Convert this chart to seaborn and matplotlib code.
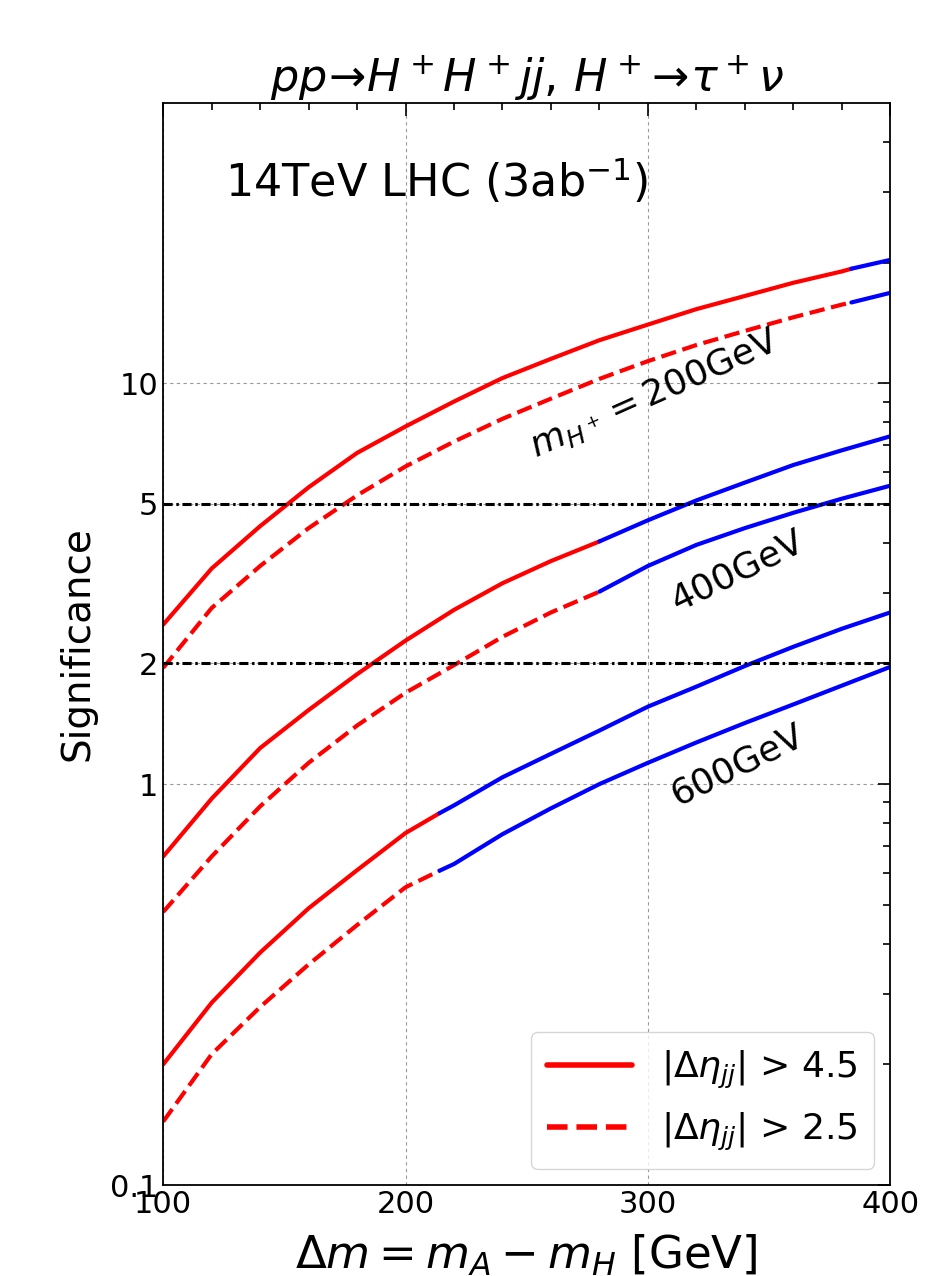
import numpy as np
import pandas as pd
import matplotlib
matplotlib.use("Agg")
import matplotlib.pyplot as plt
import seaborn as sns
from matplotlib.ticker import FixedLocator, FixedFormatter, NullFormatter
from matplotlib.lines import Line2D

# ---------------- data ----------------
dm_200 = [100, 120, 140, 160, 180, 200, 220, 240, 260, 280, 300, 320, 340, 360, 380, 384, 400]
sig_200_eta45 = [2.5, 3.45, 4.4, 5.5, 6.7, 7.8, 9.0, 10.3, 11.5, 12.8, 14.0, 15.3, 16.5, 17.8, 19.0, 19.3, 20.3]
sig_200_eta25 = [1.95, 2.75, 3.5, 4.35, 5.25, 6.2, 7.15, 8.15, 9.15, 10.25, 11.35, 12.45, 13.5, 14.6, 15.7, 15.9, 16.8]
split_200 = 384

dm_400 = [100, 120, 140, 160, 180, 200, 220, 240, 260, 280, 300, 320, 340, 360, 380, 400]
sig_400_eta45 = [0.66, 0.92, 1.23, 1.53, 1.88, 2.28, 2.72, 3.17, 3.6, 4.03, 4.55, 5.1, 5.65, 6.25, 6.8, 7.37]
sig_400_eta25 = [0.48, 0.66, 0.88, 1.13, 1.4, 1.69, 1.98, 2.33, 2.68, 3.02, 3.5, 3.95, 4.35, 4.75, 5.15, 5.55]
split_400 = 280

dm_600 = [100, 120, 140, 160, 180, 200, 214, 220, 240, 260, 280, 300, 320, 340, 360, 380, 400]
sig_600_eta45 = [0.2, 0.285, 0.38, 0.49, 0.61, 0.755, 0.846, 0.885, 1.04, 1.19, 1.36, 1.56, 1.75, 1.97, 2.2, 2.44, 2.68]
sig_600_eta25 = [0.144, 0.212, 0.278, 0.355, 0.445, 0.553, 0.608, 0.632, 0.75, 0.87, 1.0, 1.13, 1.27, 1.42, 1.58, 1.76, 1.96]
split_600 = 214

ref_levels = [2, 5]
ytick_vals = [0.1, 1, 2, 5, 10]
ytick_labels = ["0.1", "1", "2", "5", "10"]
xtick_vals = [100, 200, 300, 400]
legend_labels = [r"$|\Delta\eta_{jj}|$ > 4.5", r"$|\Delta\eta_{jj}|$ > 2.5"]

curves = [
    (dm_200, sig_200_eta45, split_200, "-"),
    (dm_200, sig_200_eta25, split_200, "--"),
    (dm_400, sig_400_eta45, split_400, "-"),
    (dm_400, sig_400_eta25, split_400, "--"),
    (dm_600, sig_600_eta45, split_600, "-"),
    (dm_600, sig_600_eta25, split_600, "--"),
]

# ---------------- style ----------------
sns.set_style("white")
plt.rcParams["font.family"] = ["DejaVu Sans"]
plt.rcParams["mathtext.fontset"] = "dejavusans"
plt.rcParams["text.color"] = "black"
plt.rcParams["axes.labelcolor"] = "black"
plt.rcParams["xtick.color"] = "black"
plt.rcParams["ytick.color"] = "black"

fig = plt.figure(figsize=(9.49, 12.76), dpi=100)
ax = fig.add_axes([0.172, 0.0713, 0.766, 0.848])

RED = "#ff0000"
BLUE = "#0000ff"

for xs, ys, split, ls in curves:
    df = pd.DataFrame({"dm": xs, "sig": ys})
    red = df[df["dm"] <= split]
    blue = df[df["dm"] >= split]
    sns.lineplot(data=red, x="dm", y="sig", color=RED, linestyle=ls, lw=3,
                 sort=False, estimator=None, ax=ax, legend=False)
    if len(blue) > 1:
        sns.lineplot(data=blue, x="dm", y="sig", color=BLUE, linestyle="-", lw=3,
                     sort=False, estimator=None, ax=ax, legend=False)

for lvl in ref_levels:
    ax.axhline(lvl, color="black", lw=2.2, linestyle=(0, (3, 1.2, 0.8, 1.2)), zorder=3)

ax.set_yscale("log")
ax.set_xlim(100, 400)
ax.set_ylim(0.1, 50)

ax.xaxis.set_major_locator(FixedLocator(xtick_vals))
ax.xaxis.set_minor_locator(FixedLocator(list(range(100, 401, 20))))
ax.yaxis.set_major_locator(FixedLocator(ytick_vals))
ax.yaxis.set_major_formatter(FixedFormatter(ytick_labels))
minor_y = [m * 10.0 ** e for e in (-1, 0, 1) for m in range(2, 10)]
minor_y = [v for v in minor_y if v not in (2, 5) and v < 50]
ax.yaxis.set_minor_locator(FixedLocator(minor_y))
ax.yaxis.set_minor_formatter(NullFormatter())

ax.tick_params(which="both", direction="in", top=True, right=True,
               labelsize=22, width=1.2, color="black")
ax.tick_params(which="major", length=9)
ax.tick_params(which="minor", length=5)
for s in ax.spines.values():
    s.set_color("black")
    s.set_linewidth(1.3)

ax.grid(True, which="major", color="0.6", lw=0.8, linestyle=(0, (3, 3)))
ax.set_axisbelow(True)

ax.set_xlabel(r"$\Delta m = m_A - m_H$ [GeV]", fontsize=32.5, labelpad=10)
ax.set_ylabel("Significance", fontsize=28, labelpad=10)
ax.set_title(r"$pp\!\rightarrow\! H^+H^+jj,\, H^+\!\rightarrow\! \tau^+\nu$", fontsize=32, pad=8)

ax.text(125.5, 32, r"14TeV LHC (3ab$^{-1}$)", fontsize=32, ha="left", va="center")
ax.text(303, 9.4, r"$m_{H^+}=200$GeV", fontsize=26, rotation=24,
        ha="center", va="center", rotation_mode="anchor")
ax.text(337, 3.4, "400GeV", fontsize=26, rotation=26,
        ha="center", va="center", rotation_mode="anchor")
ax.text(337, 1.115, "600GeV", fontsize=26, rotation=26,
        ha="center", va="center", rotation_mode="anchor")

handles = [Line2D([], [], color=RED, lw=4, linestyle="-"),
           Line2D([], [], color=RED, lw=4, linestyle="--")]
leg = ax.legend(handles, legend_labels,
                loc="lower right", fontsize=26, handlelength=2.35, handletextpad=0.8,
                frameon=True, fancybox=True, framealpha=0.8, edgecolor="0.8",
                borderpad=0.45, labelspacing=0.55, borderaxespad=0.45)
leg.get_frame().set_linewidth(1.0)

fig.savefig("out.png", dpi=100)
